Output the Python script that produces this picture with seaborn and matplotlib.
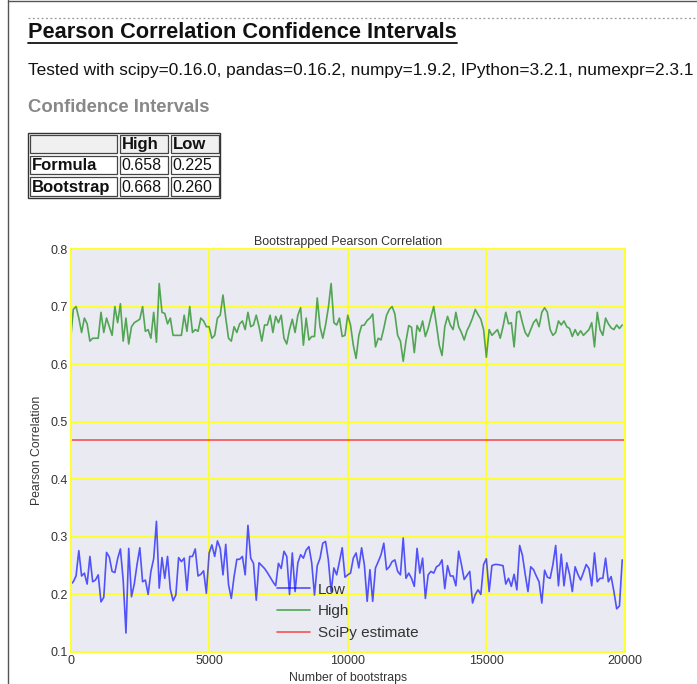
import numpy as np
import pandas as pd
import matplotlib
matplotlib.use("Agg")
import matplotlib.pyplot as plt
from matplotlib.patches import Rectangle
from matplotlib.lines import Line2D
import seaborn as sns

# ---------------- data ----------------
bootstraps = list(range(0, 20000, 100))

high_ci = [
    0.640, 0.695, 0.700, 0.680, 0.655, 0.680, 0.670, 0.640, 0.645, 0.645,
    0.645, 0.690, 0.655, 0.680, 0.665, 0.650, 0.700, 0.672, 0.705, 0.640,
    0.680, 0.635, 0.665, 0.672, 0.675, 0.678, 0.700, 0.657, 0.660, 0.645,
    0.690, 0.638, 0.740, 0.690, 0.688, 0.670, 0.680, 0.650, 0.650, 0.650,
    0.650, 0.685, 0.657, 0.700, 0.655, 0.660, 0.657, 0.680, 0.675, 0.665,
    0.665, 0.645, 0.650, 0.680, 0.685, 0.720, 0.680, 0.645, 0.640, 0.665,
    0.655, 0.670, 0.675, 0.660, 0.690, 0.665,
    0.668, 0.685, 0.665, 0.640, 0.668, 0.668, 0.685, 0.655, 0.683, 0.672,
    0.685, 0.645, 0.635, 0.660, 0.678, 0.655, 0.685, 0.698, 0.633, 0.680,
    0.642, 0.648, 0.648, 0.715, 0.665, 0.645, 0.668, 0.698, 0.740, 0.672,
    0.668, 0.680, 0.648, 0.650, 0.685,
    0.668, 0.633, 0.610, 0.650, 0.667, 0.668, 0.676, 0.680, 0.687, 0.630,
    0.645, 0.642, 0.662, 0.685, 0.695, 0.700, 0.687, 0.650, 0.640, 0.605,
    0.640, 0.667, 0.664, 0.620, 0.667, 0.657, 0.675, 0.648, 0.662, 0.682,
    0.700, 0.668, 0.633, 0.615,
    0.665, 0.683, 0.668, 0.660, 0.690, 0.665, 0.655, 0.642, 0.658, 0.668,
    0.680, 0.695, 0.686, 0.678, 0.660, 0.612, 0.660, 0.650, 0.655, 0.660,
    0.645, 0.665, 0.690, 0.670, 0.672, 0.630, 0.690, 0.692, 0.672, 0.655,
    0.648, 0.660, 0.672, 0.678, 0.665, 0.690, 0.698, 0.690, 0.660, 0.650,
    0.655, 0.675, 0.668, 0.675, 0.665, 0.662, 0.648, 0.660, 0.650, 0.658,
    0.650, 0.655, 0.660, 0.672, 0.630, 0.690, 0.660, 0.650, 0.680, 0.670,
    0.663, 0.660, 0.668, 0.662, 0.668,
]

low_ci = [
    0.217, 0.222, 0.232, 0.276, 0.232, 0.237, 0.218, 0.266, 0.222, 0.225,
    0.234, 0.187, 0.195, 0.273, 0.265, 0.240, 0.238, 0.262, 0.279, 0.225,
    0.133, 0.280, 0.196, 0.218, 0.252, 0.281, 0.222, 0.225, 0.200, 0.240,
    0.262, 0.327, 0.211, 0.264, 0.228, 0.266, 0.209, 0.189, 0.199, 0.264,
    0.257, 0.263, 0.207, 0.266, 0.266, 0.279, 0.232, 0.235, 0.241, 0.202,
    0.272, 0.286, 0.266, 0.293, 0.280, 0.234, 0.287, 0.217, 0.193, 0.231,
    0.261, 0.261, 0.266, 0.234, 0.320, 0.263,
    0.254, 0.190, 0.255, 0.250,
    0.245, 0.238, 0.230, 0.222, 0.215, 0.254, 0.245, 0.275, 0.266, 0.200,
    0.272, 0.205, 0.255, 0.269, 0.263, 0.277, 0.283, 0.255, 0.199, 0.250,
    0.263, 0.289, 0.292, 0.260, 0.205, 0.246, 0.234, 0.257, 0.281, 0.230,
    0.234, 0.237, 0.263, 0.272, 0.246, 0.281, 0.251, 0.188, 0.243, 0.188,
    0.246, 0.257, 0.269, 0.289, 0.243, 0.248, 0.257, 0.260, 0.240, 0.234,
    0.298, 0.228, 0.237, 0.228, 0.214, 0.280, 0.237, 0.263, 0.193, 0.234,
    0.240, 0.237, 0.248, 0.251, 0.260,
    0.210, 0.250, 0.232, 0.232, 0.215, 0.275, 0.252, 0.226, 0.233, 0.240,
    0.185, 0.200, 0.208, 0.200, 0.252, 0.262, 0.205, 0.250, 0.252, 0.252,
    0.251, 0.250, 0.218, 0.228, 0.214, 0.235, 0.208, 0.285, 0.268, 0.235,
    0.205, 0.248, 0.243, 0.232, 0.222, 0.185, 0.242, 0.230, 0.228, 0.252,
    0.285, 0.215, 0.270, 0.215, 0.255, 0.235, 0.205, 0.248, 0.235, 0.225,
    0.238, 0.252, 0.245, 0.215, 0.272, 0.222, 0.228, 0.228, 0.263, 0.222,
    0.231, 0.205, 0.175, 0.180, 0.260,
]

scipy_estimate = 0.468

table_cols = ["High", "Low"]
table_rows = ["Formula", "Bootstrap"]
table_high = ["0.658", "0.668"]
table_low = ["0.225", "0.260"]

page_title = "Pearson Correlation Confidence Intervals"
page_subtitle = "Tested with scipy=0.16.0, pandas=0.16.2, numpy=1.9.2, IPython=3.2.1, numexpr=2.3.1"
section_title = "Confidence Intervals"
chart_title = "Bootstrapped Pearson Correlation"
x_label = "Number of bootstraps"
y_label = "Pearson Correlation"
x_ticks = [0, 5000, 10000, 15000, 20000]
y_ticks = [0.1, 0.2, 0.3, 0.4, 0.5, 0.6, 0.7, 0.8]

# ---------------- style ----------------
YELLOW = "#ffff30"
sns.set_theme(style="darkgrid", rc={
    "axes.facecolor": "#EAEAF2",
    "grid.color": YELLOW,
    "grid.linewidth": 1.4,
    "axes.edgecolor": YELLOW,
    "axes.linewidth": 1.4,
    "text.color": "#333333",
    "xtick.color": "#333333",
    "ytick.color": "#333333",
    "axes.labelcolor": "#333333",
})
plt.rcParams["font.family"] = ["Liberation Sans", "DejaVu Sans"]

W, H = 697, 684
fig = plt.figure(figsize=(W / 100, H / 100), dpi=100)
fig.patch.set_facecolor("white")


def fx(x):
    return x / W


def fy(y):
    return 1 - y / H


# page frame
fig.add_artist(Line2D([fx(8), fx(8)], [0, 1], color="#555555", lw=1.0))
fig.add_artist(Line2D([fx(8), 1], [fy(1), fy(1)], color="#555555", lw=1.0))
fig.add_artist(Line2D([fx(28), 1], [fy(18), fy(18)], color="#999999", lw=0.9,
                      linestyle=(0, (1.5, 2))))

# header texts
t = fig.text(fx(28), fy(32), page_title, fontsize=15.7, fontweight="bold",
             color="#111111", va="center", ha="left")
fig.canvas.draw()
bb = t.get_window_extent()
fig.add_artist(Line2D([fx(bb.x0), fx(bb.x1)], [fy(42.5), fy(42.5)], color="#111111", lw=1.3))

fig.text(fx(28), fy(70), page_subtitle, fontsize=12.4, color="#111111", va="center", ha="left")
fig.text(fx(28), fy(107), section_title, fontsize=13.3, fontweight="bold",
         color="#888888", va="center", ha="left")

# table
col_x = [28, 118, 169, 220]
row_y = [133, 154.5, 176, 198]
cells = [["", table_cols[0], table_cols[1]],
         [table_rows[0], table_high[0], table_low[0]],
         [table_rows[1], table_high[1], table_low[1]]]
for r in range(3):
    for c in range(3):
        x0, x1 = col_x[c], col_x[c + 1]
        y0, y1 = row_y[r], row_y[r + 1]
        face = "#f0f0f0" if r == 0 else "white"
        fig.add_artist(Rectangle((fx(x0 + 1.5), fy(y1 - 1.5)), (x1 - x0 - 3) / W, (y1 - y0 - 3) / H,
                                 transform=fig.transFigure, facecolor=face,
                                 edgecolor="#444444", lw=0.9))
        bold = (r == 0 or c == 0)
        txt = cells[r][c]
        size = 12 if bold else 11.5
        fig.text(fx(x0 + 3.5), fy((y0 + y1) / 2 + 0.5), txt, fontsize=size,
                 fontweight="bold" if bold else "normal",
                 color="#111111", va="center", ha="left")
fig.add_artist(Rectangle((fx(col_x[0]), fy(row_y[-1])), (col_x[-1] - col_x[0]) / W,
                         (row_y[-1] - row_y[0]) / H, transform=fig.transFigure,
                         facecolor="none", edgecolor="#333333", lw=1.0))

# chart
ax_left, ax_right, ax_top, ax_bottom = 70.5, 625, 249, 652
ax = fig.add_axes([fx(ax_left), fy(ax_bottom), (ax_right - ax_left) / W, (ax_bottom - ax_top) / H])

df = pd.DataFrame({"bootstraps": bootstraps, "Low": low_ci, "High": high_ci})
sns.lineplot(data=df, x="bootstraps", y="Low", ax=ax, color="blue", alpha=0.65, lw=1.2)
sns.lineplot(data=df, x="bootstraps", y="High", ax=ax, color="green", alpha=0.65, lw=1.2)
ax.axhline(scipy_estimate, color="red", alpha=0.65, lw=1.2)

ax.set_xlim(0, 20000)
ax.set_ylim(0.1, 0.8)
ax.set_xticks(x_ticks)
ax.set_xticklabels([str(v) for v in x_ticks])
ax.set_yticks(y_ticks)
ax.set_yticklabels([f"{v:.1f}" for v in y_ticks])
ax.tick_params(axis="both", labelsize=9, pad=2, length=0)
ax.set_title(chart_title, fontsize=8.9, pad=3, color="#333333")
ax.set_xlabel(x_label, fontsize=8.8, labelpad=4)
ax.set_ylabel(y_label, fontsize=8.8, labelpad=5)
for s in ax.spines.values():
    s.set_visible(True)
    s.set_color(YELLOW)
    s.set_linewidth(1.4)

lines = ax.get_lines()
ax.legend(handles=lines[:3], labels=["Low", "High", "SciPy estimate"],
          loc="lower left", bbox_to_anchor=(0.3725, 0.03), frameon=False, fontsize=11,
          handlelength=2.15, labelspacing=0.5, handletextpad=0.5,
          borderpad=0, borderaxespad=0)

fig.savefig("out.png", dpi=100, facecolor="white")
